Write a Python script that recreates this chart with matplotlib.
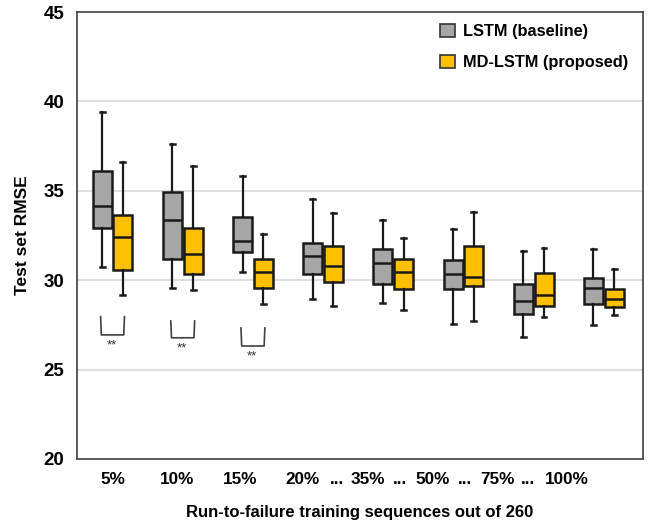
import matplotlib
matplotlib.use("Agg")
import matplotlib.pyplot as plt
from matplotlib.patches import Patch
import numpy as np

plt.rcParams['font.family'] = ['Liberation Sans', 'DejaVu Sans']

categories = ["5%", "10%", "15%", "20%", "35%", "50%", "75%", "100%"]
# box stats: [whislo, q1, med, q3, whishi]
lstm_stats = [
    [30.74, 32.92, 34.13, 36.11, 39.39],
    [29.58, 31.19, 33.39, 34.91, 37.63],
    [30.44, 31.58, 32.21, 33.53, 35.85],
    [28.97, 30.35, 31.35, 32.08, 34.52],
    [28.72, 29.80, 30.96, 31.76, 33.39],
    [27.57, 29.51, 30.35, 31.13, 32.85],
    [26.81, 28.11, 28.82, 29.80, 31.65],
    [27.48, 28.65, 29.56, 30.11, 31.73],
]
md_stats = [
    [29.19, 30.57, 32.40, 33.66, 36.63],
    [29.43, 30.36, 31.45, 32.92, 36.39],
    [28.67, 29.56, 30.44, 31.19, 32.58],
    [28.57, 29.90, 30.81, 31.89, 33.76],
    [28.35, 29.51, 30.44, 31.20, 32.38],
    [27.72, 29.66, 30.20, 31.89, 33.83],
    [27.94, 28.56, 29.17, 30.42, 31.82],
    [28.04, 28.48, 28.97, 29.49, 30.64],
]
series_names = ["LSTM (baseline)", "MD-LSTM (proposed)"]
series_colors = ["#a6a6a6", "#ffc000"]

# significance brackets: group index, top y, bottom y
sig_groups = [0, 1, 2]
sig_top = [27.96, 27.72, 27.33]
sig_bottom = [26.94, 26.78, 26.32]

tick_label_pos = [0.0, 0.92, 1.82, 2.71, 3.64, 4.565, 5.49, 6.47]
dots_pos = [3.2, 4.1, 5.02, 5.92]

fig = plt.figure(figsize=(6.5, 5.23), dpi=100)
ax = fig.add_axes([0.1185, 0.1224, 0.8705, 0.8546])

x = np.arange(len(categories))
off = 0.148
width = 0.27

def mk(stats):
    out = []
    for s in stats:
        out.append(dict(whislo=s[0], q1=s[1], med=s[2], q3=s[3], whishi=s[4], fliers=[]))
    return out

for stats, sign, col in [(lstm_stats, -1, series_colors[0]), (md_stats, 1, series_colors[1])]:
    ax.bxp(mk(stats), positions=x + sign * off, widths=width, patch_artist=True,
           showfliers=False, manage_ticks=False,
           boxprops=dict(facecolor=col, edgecolor='#1a1a1a', linewidth=1.8),
           medianprops=dict(color='#1a1a1a', linewidth=1.8),
           whiskerprops=dict(color='#1a1a1a', linewidth=1.6),
           capprops=dict(color='#1a1a1a', linewidth=1.8),
           capwidths=0.07)

for g, t, b in zip(sig_groups, sig_top, sig_bottom):
    xl = g - 0.17
    xr = g + 0.17
    ax.plot([xl, xl + 0.01, xr - 0.01, xr], [t, b, b, t], color='#404040', lw=1.2,
            solid_joinstyle='round')
    ax.text(g - 0.01, b - 0.25, "**", ha='center', va='top', fontsize=9.5, color='#333333')

ax.set_ylim(20, 45)
ax.set_xlim(-0.506, 7.556)
ax.set_yticks([20, 25, 30, 35, 40, 45])
ax.set_yticklabels(["20", "25", "30", "35", "40", "45"], fontsize=13.5, fontweight='bold')
ax.tick_params(axis='y', length=0, pad=9)
ax.set_xticks([])
for v in [25, 30, 35, 40]:
    ax.axhline(v, color='#d9d9d9', lw=1.2, zorder=0)
for sp in ax.spines.values():
    sp.set_color('#404040')
    sp.set_linewidth(1.2)

trans = matplotlib.transforms.blended_transform_factory(ax.transData, ax.transAxes)
for p, lab in zip(tick_label_pos, categories):
    ax.text(p, -0.047, lab, transform=trans, ha='center', va='center', fontsize=12.3, fontweight='bold')
for p in dots_pos:
    ax.text(p, -0.047, "...", transform=trans, ha='center', va='center', fontsize=12.3, fontweight='bold')

ax.text(0.5, -0.12, "Run-to-failure training sequences out of 260", transform=ax.transAxes,
        ha='center', va='center', fontsize=12, fontweight='bold')
ax.set_ylabel("Test set RMSE", fontsize=12.5, fontweight='bold', labelpad=10)

handles = [Patch(facecolor=c, edgecolor='#333333', linewidth=1.2) for c in series_colors]
leg = ax.legend(handles, series_names, loc='upper right', frameon=False,
                prop=dict(size=11.8, weight='bold'), labelspacing=0.95,
                handlelength=0.9, handleheight=0.9, handletextpad=0.5,
                bbox_to_anchor=(0.995, 1.0), borderaxespad=0.3)

fig.savefig("out.png", dpi=100)
